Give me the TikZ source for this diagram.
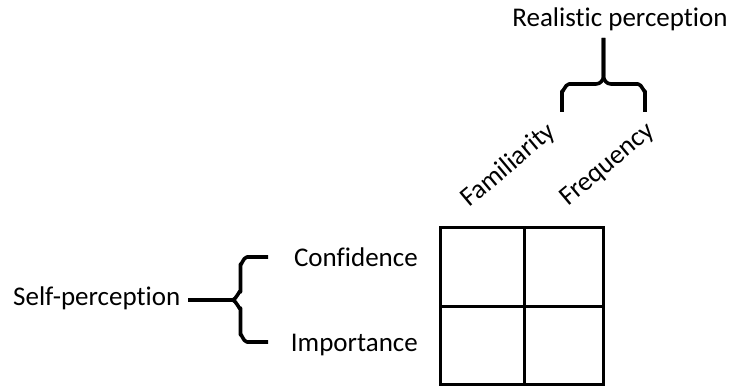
\documentclass[tikz,border=0pt]{standalone}
\usepackage{fontspec}
\setmainfont{Carlito}[Ligatures=CommonOff]
\begin{document}
\begin{tikzpicture}[x=1pt,y=-1pt,
  lbl/.style={inner sep=0pt,font=\fontsize{27}{32}\selectfont},
  gridline/.style={line width=3pt,line cap=rect},
  bracepath/.style={line width=3.6pt,line join=round,line cap=butt}]
\useasboundingbox (0,0) rectangle (734,387);

% texts
\node[lbl,anchor=base] (real) at (620,27) {Realistic perception};
\node[lbl,anchor=base west,rotate=40] (fam) at (469,208) {Familiarity};
\node[lbl,anchor=base west,rotate=40] (freq) at (568,207) {Frequency};
\node[lbl,anchor=base west] (self) at (13,306) {Self-perception};
\node[lbl,anchor=base east] (conf) at (418,267) {Confidence};
\node[lbl,anchor=base east] (imp) at (418,352) {Importance};

% 2x2 grid
\draw[gridline] (440,228) rectangle (603,385);
\draw[gridline] (524,228) -- (524,385);
\draw[gridline] (440,307) -- (603,307);

% brace over the two columns
\coordinate (ttip) at (603.5,38);
\draw[bracepath] (562,112) -- (562,91) to[out=-90,in=180] (569,84)
  -- (596,84) to[out=0,in=-90] (603.5,76) -- (ttip);
\draw[bracepath] (645,112) -- (645,91) to[out=-90,in=0] (638,84)
  -- (611,84) to[out=180,in=-90] (603.5,76) -- (ttip);

% brace beside the two rows
\coordinate (ltip) at (232,300);
\draw[bracepath] (268,257) -- (247,257) to[out=180,in=-90] (240.5,264)
  -- (240.5,292) to[out=90,in=0] (ltip);
\draw[bracepath] (268,342) -- (247,342) to[out=180,in=90] (240.5,335)
  -- (240.5,308) to[out=-90,in=0] (ltip);
\draw[bracepath] (self.east |- ltip) ++(8,0) -- (ltip);
\end{tikzpicture}
\end{document}
